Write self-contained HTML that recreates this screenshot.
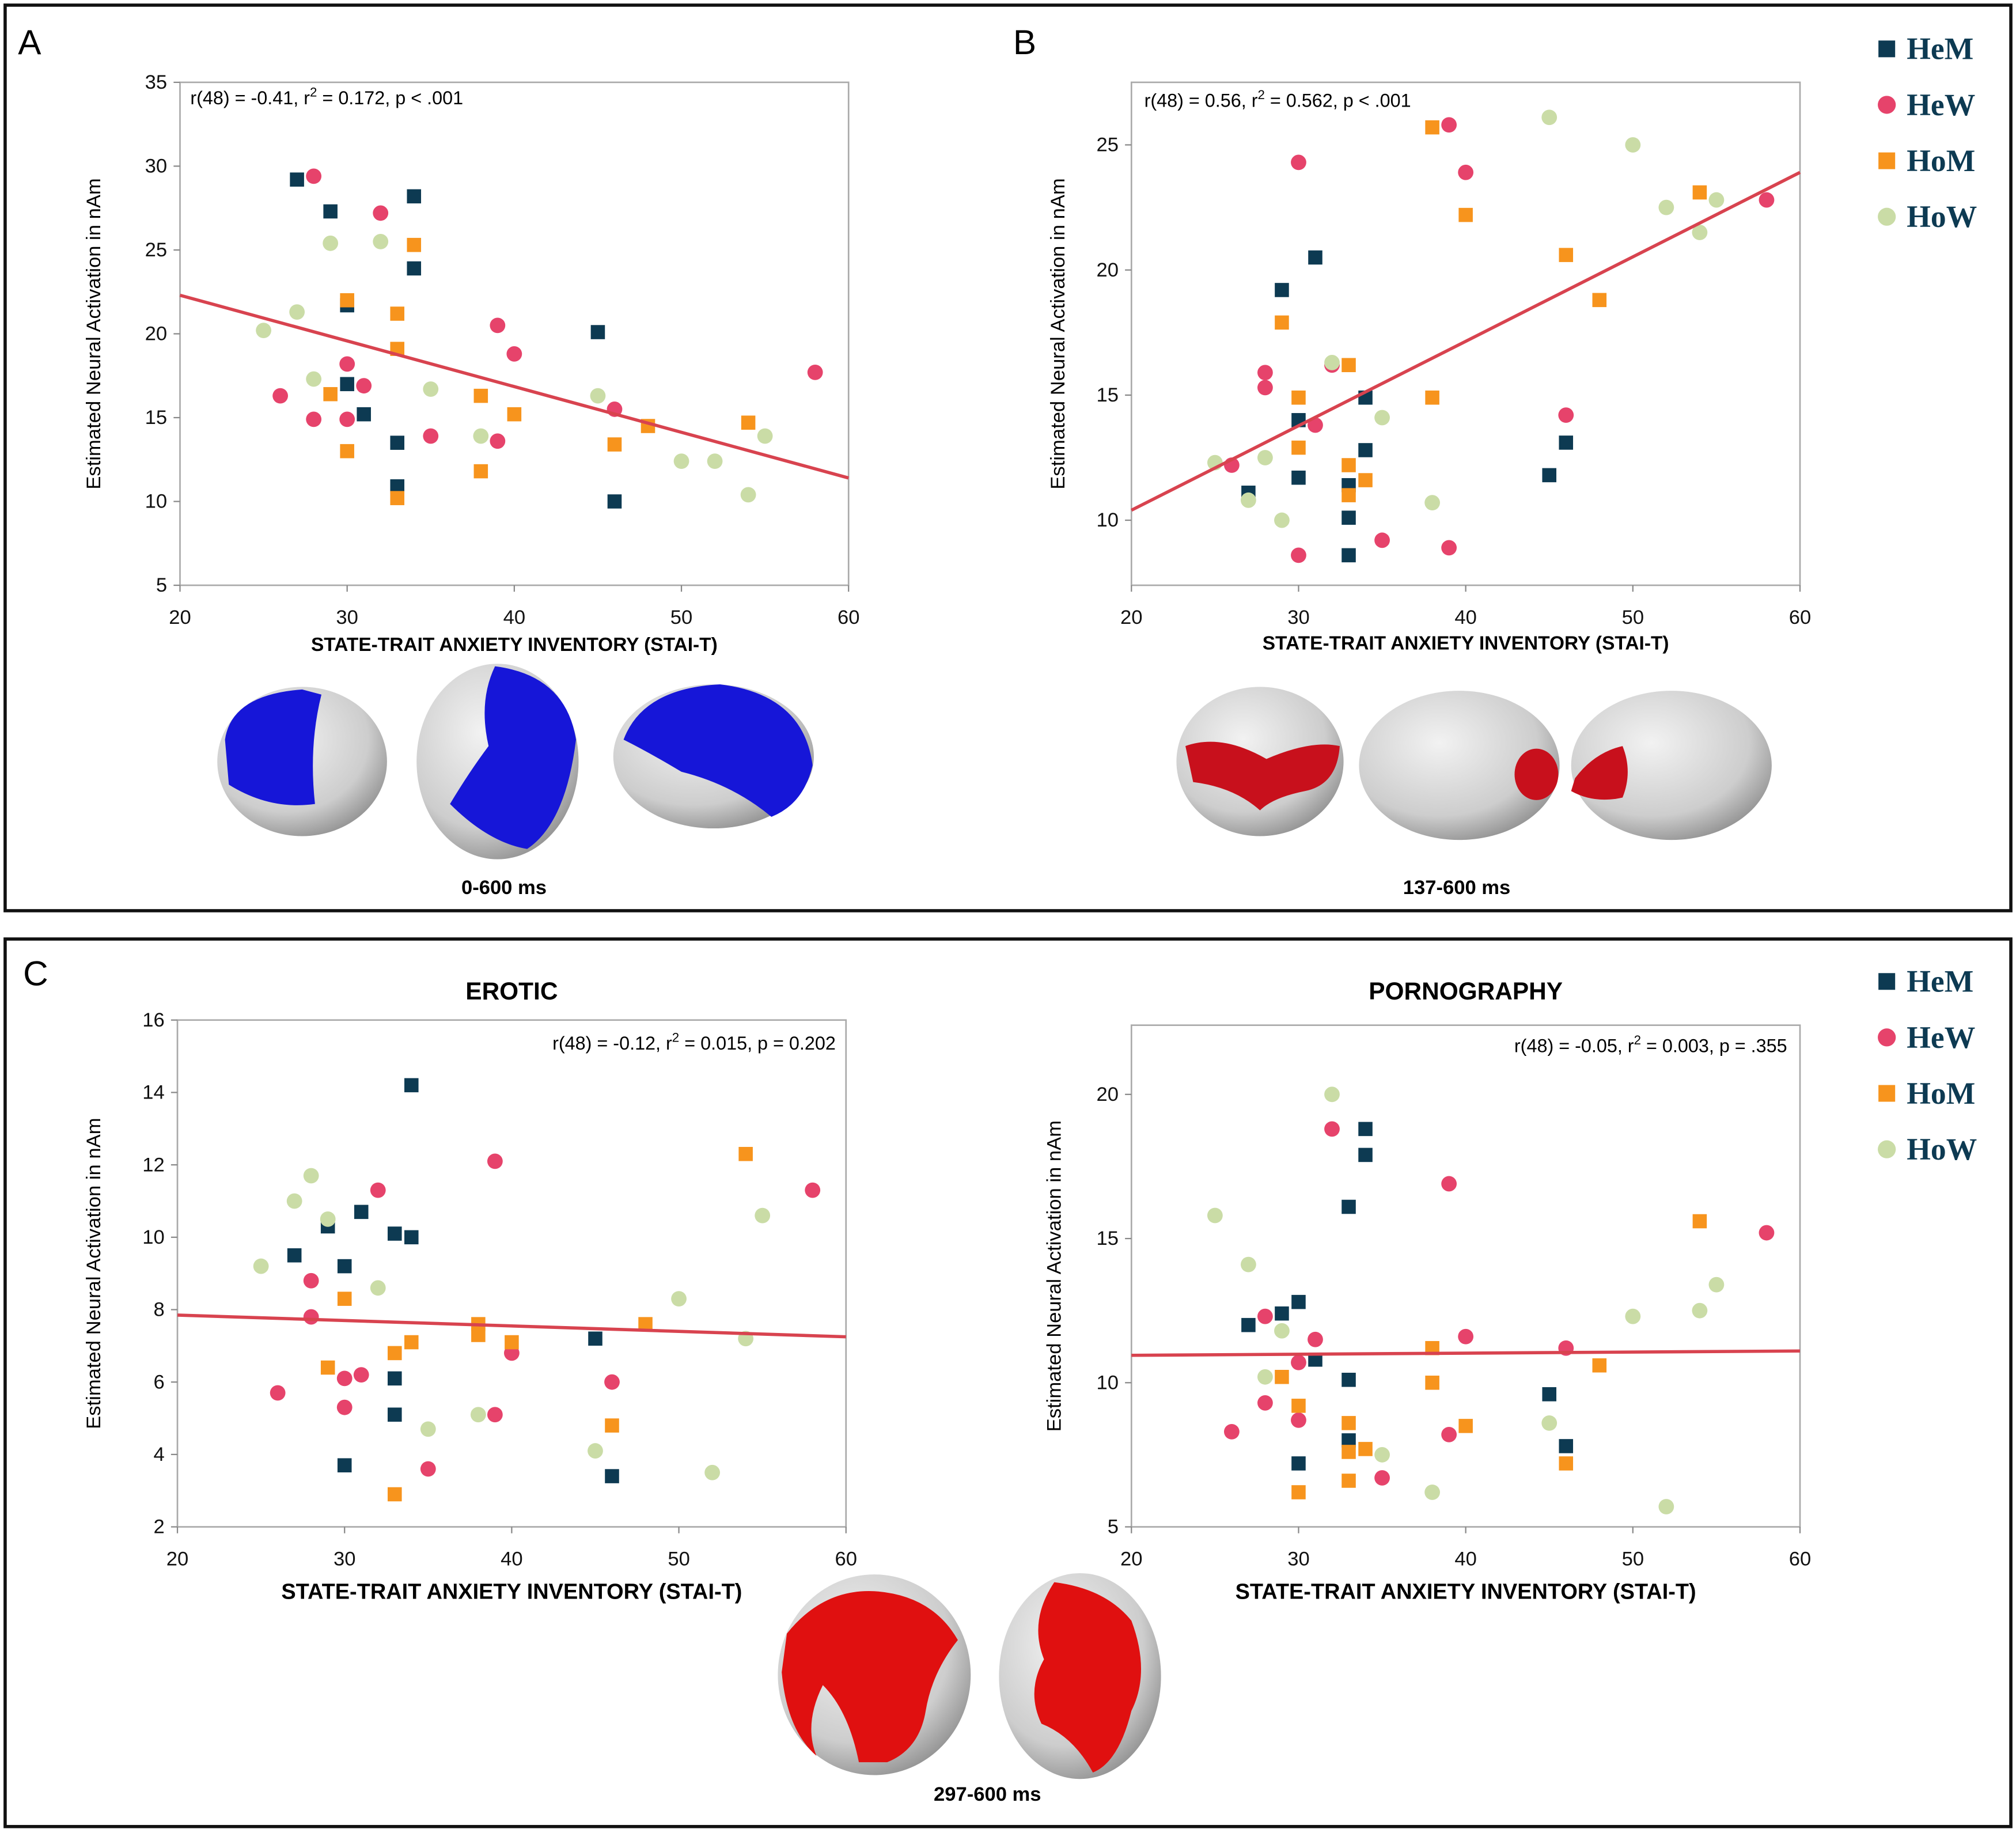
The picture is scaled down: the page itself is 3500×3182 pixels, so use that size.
<!DOCTYPE html>
<html><head><meta charset="utf-8">
<style>
html,body{margin:0;padding:0;background:#fff;}
svg{display:block;}
text{font-family:"Liberation Sans",sans-serif;}
</style></head>
<body>
<svg id="fig" width="3500" height="3182" viewBox="0 0 1568 1425" preserveAspectRatio="none" xmlns="http://www.w3.org/2000/svg">
<defs>
<radialGradient id="gbrain" cx="40%" cy="35%" r="70%">
<stop offset="0" stop-color="#f2f2f2"/><stop offset="0.7" stop-color="#cdcdcd"/><stop offset="1" stop-color="#909090"/>
</radialGradient>
</defs>
<rect x="0" y="0" width="1568" height="1425" fill="#fff"/>
<rect x="4" y="4" width="1560" height="704" fill="none" stroke="#111" stroke-width="2.5"/>
<rect x="4" y="730" width="1560" height="690" fill="none" stroke="#111" stroke-width="2.5"/>
<text x="14" y="42" font-size="27">A</text>
<text x="788" y="42" font-size="27">B</text>
<text x="18" y="766" font-size="27">C</text>
<g id="charts"></g>
<g id="brains">
 <g>
  <ellipse cx="235" cy="592" rx="66" ry="58" fill="url(#gbrain)"/>
  <path d="M175,575 Q180,540 235,536 L250,540 Q240,580 245,625 Q210,630 178,610 Z" fill="#1616d8"/>
 </g>
 <g>
  <ellipse cx="387" cy="592" rx="63" ry="76" fill="url(#gbrain)"/>
  <path d="M385,518 Q440,525 448,575 Q440,640 410,660 Q380,655 350,625 Q365,600 380,580 Q372,545 385,518 Z" fill="#1616d8"/>
 </g>
 <g>
  <ellipse cx="555" cy="588" rx="78" ry="56" fill="url(#gbrain)"/>
  <path d="M485,575 Q500,535 560,532 Q625,540 632,595 Q625,625 600,635 Q570,610 530,600 Q505,585 485,575 Z" fill="#1616d8"/>
 </g>
 <g>
  <ellipse cx="980" cy="592" rx="65" ry="58" fill="url(#gbrain)"/>
  <path d="M922,580 Q950,570 985,590 Q1020,575 1042,580 Q1040,610 1015,615 Q990,620 980,630 Q960,612 928,608 Z" fill="#c8101c"/>
 </g>
 <g>
  <ellipse cx="1135" cy="595" rx="78" ry="58" fill="url(#gbrain)"/>
  <ellipse cx="1195" cy="602" rx="17" ry="20" fill="#c8101c"/>
 </g>
 <g>
  <ellipse cx="1300" cy="595" rx="78" ry="58" fill="url(#gbrain)"/>
  <path d="M1225,605 Q1240,585 1262,580 Q1270,600 1262,620 Q1240,625 1222,615 Z" fill="#c8101c"/>
 </g>
 <g>
  <ellipse cx="680" cy="1302" rx="75" ry="78" fill="url(#gbrain)"/>
  <path d="M612,1270 Q640,1235 680,1237 Q725,1240 745,1275 Q725,1300 720,1330 Q715,1360 690,1370 L668,1370 Q660,1330 640,1310 Q625,1340 635,1365 Q612,1345 608,1300 Z" fill="#e01010"/>
 </g>
 <g>
  <ellipse cx="840" cy="1303" rx="63" ry="80" fill="url(#gbrain)"/>
  <path d="M820,1230 Q860,1235 880,1260 Q895,1300 880,1330 Q870,1370 850,1378 Q835,1350 810,1340 Q798,1315 812,1290 Q800,1260 820,1230 Z" fill="#e01010"/>
 </g>
</g>
<text x="392" y="695" font-size="15.5" font-weight="bold" text-anchor="middle">0-600 ms</text>
<text x="1133" y="695" font-size="15.5" font-weight="bold" text-anchor="middle">137-600 ms</text>
<text x="768" y="1400" font-size="15.5" font-weight="bold" text-anchor="middle">297-600 ms</text>
<g id="legends"></g>
</svg>
<script>
const NS='http://www.w3.org/2000/svg';
const groups=['HeM','HeW','HoM','HoW'];
const colors={HeM:'#0d3a52',HeW:'#e6436b',HoM:'#f7941d',HoW:'#cadca6'};
const xTicks=[20,30,40,50,60];

const aHeMx=[27,29,34,34,30,30,31,33,33,45,46];
const aHeMy=[29.2,27.3,28.2,23.9,21.7,17,15.2,13.5,10.9,20.1,10];
const aHeWx=[28,32,26,30,31,28,30,35,39,40,39,46,58];
const aHeWy=[29.4,27.2,16.3,18.2,16.9,14.9,14.9,13.9,20.5,18.8,13.6,15.5,17.7];
const aHoMx=[34,30,33,33,29,30,33,38,40,38,48,46,54];
const aHoMy=[25.3,22,21.2,19.1,16.4,13,10.2,16.3,15.2,11.8,14.5,13.4,14.7];
const aHoWx=[29,32,27,25,28,35,38,45,50,52,55,54];
const aHoWy=[25.4,25.5,21.3,20.2,17.3,16.7,13.9,16.3,12.4,12.4,13.9,10.4];
const aFit=[22.3,11.4];
const aYTicks=[5,10,15,20,25,30,35];

const bHeMx=[27,29,31,30,30,34,34,33,33,33,45,46];
const bHeMy=[11.1,19.2,20.5,14,11.7,14.9,12.8,11.4,10.1,8.6,11.8,13.1];
const bHeWx=[26,30,28,28,31,32,30,39,40,35,39,46,58];
const bHeWy=[12.2,24.3,15.9,15.3,13.8,16.2,8.6,25.8,23.9,9.2,8.9,14.2,22.8];
const bHoMx=[38,40,29,30,30,33,33,33,34,38,46,48,54];
const bHoMy=[25.7,22.2,17.9,14.9,12.9,16.2,12.2,11,11.6,14.9,20.6,18.8,23.1];
const bHoWx=[25,27,28,29,32,35,38,45,50,52,54,55];
const bHoWy=[12.3,10.8,12.5,10,16.3,14.1,10.7,26.1,25,22.5,21.5,22.8];
const bFit=[10.4,23.9];
const bYTicks=[10,15,20,25];

const eHeMx=[27,29,31,30,33,34,34,33,33,30,45,46];
const eHeMy=[9.5,10.3,10.7,9.2,10.1,14.2,10,6.1,5.1,3.7,7.2,3.4];
const eHeWx=[26,28,28,32,30,31,30,35,39,40,39,46,58];
const eHeWy=[5.7,8.8,7.8,11.3,6.1,6.2,5.3,3.6,12.1,6.8,5.1,6,11.3];
const eHoMx=[29,30,33,34,33,38,38,40,48,46,54];
const eHoMy=[6.4,8.3,6.8,7.1,2.9,7.6,7.3,7.1,7.6,4.8,12.3];
const eHoWx=[25,27,28,29,32,35,38,45,50,52,54,55];
const eHoWy=[9.2,11,11.7,10.5,8.6,4.7,5.1,4.1,8.3,3.5,7.2,10.6];
const eFit=[7.85,7.25];
const eYTicks=[2,4,6,8,10,12,14,16];

const pHeMx=[27,29,30,31,33,34,34,33,33,30,45,46];
const pHeMy=[12,12.4,12.8,10.8,16.1,18.8,17.9,10.1,8,7.2,9.6,7.8];
const pHeWx=[26,28,28,30,30,31,32,39,40,39,35,46,58];
const pHeWy=[8.3,12.3,9.3,10.7,8.7,11.5,18.8,16.9,11.6,8.2,6.7,11.2,15.2];
const pHoMx=[29,30,30,33,33,33,34,38,38,40,46,48,54];
const pHoMy=[10.2,9.2,6.2,8.6,7.6,6.6,7.7,11.2,10,8.5,7.2,10.6,15.6];
const pHoWx=[25,27,28,29,32,35,38,45,50,52,54,55];
const pHoWy=[15.8,14.1,10.2,11.8,20,7.5,6.2,8.6,12.3,5.7,12.5,13.4];
const pFit=[10.95,11.1];
const pYTicks=[5,10,15,20];

const charts=[
 {id:'a',x0:140,x1:660,yTop:64,yBot:455,ymin:5,ymax:35,yt:aYTicks,fit:aFit,
  data:{HeM:[aHeMx,aHeMy],HeW:[aHeWx,aHeWy],HoM:[aHoMx,aHoMy],HoW:[aHoWx,aHoWy]},
  ann:['r(48) = -0.41, r','2',' = 0.172, p < .001'],annX:148,annY:81,annAnchor:'start',
  xt:'STATE-TRAIT ANXIETY INVENTORY (STAI-T)',xtY:506,xtSize:15,ytX:78},
 {id:'b',x0:880,x1:1400,yTop:64,yBot:455,ymin:7.4,ymax:27.5,yt:bYTicks,fit:bFit,
  data:{HeM:[bHeMx,bHeMy],HeW:[bHeWx,bHeWy],HoM:[bHoMx,bHoMy],HoW:[bHoWx,bHoWy]},
  ann:['r(48) = 0.56, r','2',' = 0.562, p < .001'],annX:890,annY:83,annAnchor:'start',
  xt:'STATE-TRAIT ANXIETY INVENTORY (STAI-T)',xtY:505,xtSize:15,ytX:828},
 {id:'erotic',x0:138,x1:658,yTop:793,yBot:1187,ymin:2,ymax:16,yt:eYTicks,fit:eFit,
  data:{HeM:[eHeMx,eHeMy],HeW:[eHeWx,eHeWy],HoM:[eHoMx,eHoMy],HoW:[eHoWx,eHoWy]},
  ann:['r(48) = -0.12, r','2',' = 0.015, p = 0.202'],annX:650,annY:816,annAnchor:'end',
  xt:'STATE-TRAIT ANXIETY INVENTORY (STAI-T)',xtY:1243,xtSize:17,ytX:78,title:'EROTIC'},
 {id:'porn',x0:880,x1:1400,yTop:797,yBot:1187,ymin:5,ymax:22.4,yt:pYTicks,fit:pFit,
  data:{HeM:[pHeMx,pHeMy],HeW:[pHeWx,pHeWy],HoM:[pHoMx,pHoMy],HoW:[pHoWx,pHoWy]},
  ann:['r(48) = -0.05, r','2',' = 0.003, p = .355'],annX:1390,annY:818,annAnchor:'end',
  xt:'STATE-TRAIT ANXIETY INVENTORY (STAI-T)',xtY:1243,xtSize:17,ytX:825,title:'PORNOGRAPHY'}
];

function mk(tag,attrs,parent){const e=document.createElementNS(NS,tag);for(const k in attrs)e.setAttribute(k,attrs[k]);parent.appendChild(e);return e;}
const root=document.getElementById('charts');

charts.forEach(c=>{
 const g=mk('g',{},root);
 
 
 const sx=v=>c.x0+(v-20)/40*(c.x1-c.x0);
 const sy=v=>c.yBot-(v-c.ymin)/(c.ymax-c.ymin)*(c.yBot-c.yTop);
 const frame=mk('rect',{x:c.x0,y:c.yTop,width:c.x1-c.x0,height:c.yBot-c.yTop,fill:'none',stroke:'#aaa','stroke-width':1.2},g);
 
 
 c.yt.forEach(v=>{
  const y=sy(v);
  const tk=mk('line',{x1:c.x0-5,x2:c.x0,y1:y,y2:y,stroke:'#888','stroke-width':1},g);
  
  
  const t=mk('text',{x:c.x0-10,y:y+5,'font-size':15.5,'text-anchor':'end',fill:'#111'},g);
  t.textContent=v;
  
  
 });
 xTicks.forEach(v=>{
  const x=sx(v);
  const tk=mk('line',{x1:x,x2:x,y1:c.yBot,y2:c.yBot+5,stroke:'#888','stroke-width':1},g);
  
  
  const t=mk('text',{x:x,y:c.yBot+30,'font-size':15.5,'text-anchor':'middle',fill:'#111'},g);
  t.textContent=v;
  
  
 });
 const xt=mk('text',{x:(c.x0+c.x1)/2,y:c.xtY,'font-size':c.xtSize,'font-weight':'bold','text-anchor':'middle'},g);
 xt.textContent=c.xt;
 
 
 const ymid=(c.yTop+c.yBot)/2;
 const yt=mk('text',{x:c.ytX,y:ymid,'font-size':15.5,'text-anchor':'middle',transform:'rotate(-90 '+c.ytX+' '+ymid+')'},g);
 yt.textContent='Estimated Neural Activation in nAm';
 
 
 if(c.title){
  const tt=mk('text',{x:(c.x0+c.x1)/2,y:777,'font-size':19,'font-weight':'bold','text-anchor':'middle'},g);
  tt.textContent=c.title;
  
  
 }
 const an=mk('text',{x:c.annX,y:c.annY,'font-size':14.5,'text-anchor':c.annAnchor},g);
 
 
 const s1=mk('tspan',{},an);s1.textContent=c.ann[0];
 const s2=mk('tspan',{dy:-6,'font-size':10},an);s2.textContent=c.ann[1];
 const s3=mk('tspan',{dy:6},an);s3.textContent=c.ann[2];
 groups.forEach(gr=>{
  const xs=c.data[gr][0], ys=c.data[gr][1];
  xs.forEach((xv,i)=>{
   const px=sx(xv), py=sy(ys[i]);
   let m;
   if(gr==='HeM'||gr==='HoM'){
    m=mk('rect',{x:px-5.5,y:py-5.5,width:11,height:11,fill:colors[gr]},g);
   } else {
    m=mk('circle',{cx:px,cy:py,r:6,fill:colors[gr]},g);
   }
   
   
  });
 });
 const fl=mk('line',{x1:sx(20),y1:sy(c.fit[0]),x2:sx(60),y2:sy(c.fit[1]),stroke:'#d8434f','stroke-width':2.5},g);
 
 
});

const lg=document.getElementById('legends');
[[38,'legend-ab'],[763,'legend-c']].forEach(([y0,nm])=>{
 const g=mk('g',{},lg);
 
 
 groups.forEach((gr,i)=>{
  const y=y0+i*43.5;
  const e=mk('g',{},g);
  
  
  if(gr==='HeM'||gr==='HoM') mk('rect',{x:1461,y:y-6.5,width:13,height:13,fill:colors[gr]},e);
  else mk('circle',{cx:1467.5,cy:y,r:7,fill:colors[gr]},e);
  const t=mk('text',{x:1483,y:y+8,'font-size':24,'font-weight':'bold',fill:'#0d3a52',style:'font-family:"Liberation Serif",serif'},e);
  t.textContent=gr;
 });
});
</script>
</body></html>
